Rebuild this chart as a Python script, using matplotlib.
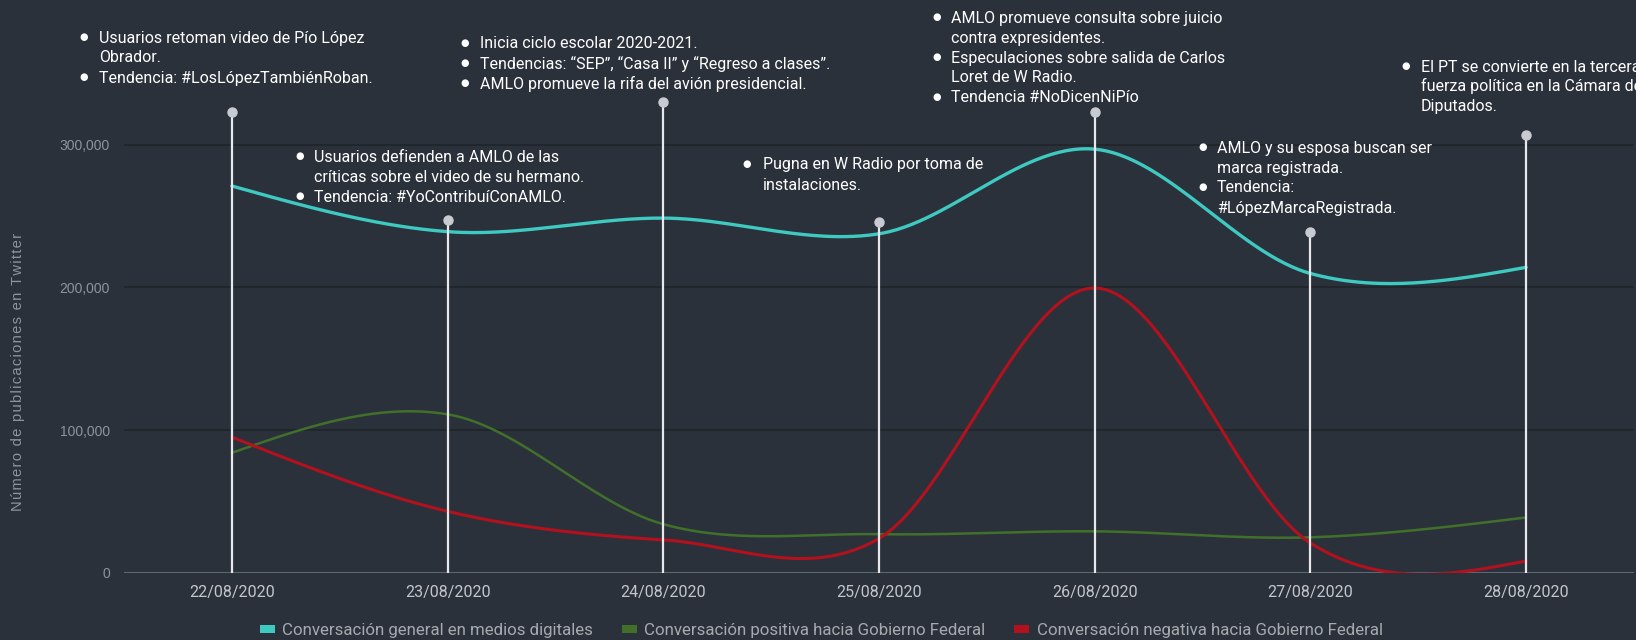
import numpy as np
import matplotlib
matplotlib.use("Agg")
import matplotlib.pyplot as plt
from matplotlib.patches import Patch

plt.rcParams['font.family'] = ['Roboto', 'DejaVu Sans']

# datos
fechas = ["22/08/2020", "23/08/2020", "24/08/2020", "25/08/2020",
          "26/08/2020", "27/08/2020", "28/08/2020"]
general = [271000, 239000, 248500, 237500, 296800, 209700, 214000]
positiva = [84000, 111000, 34000, 27000, 29000, 24800, 38700]
negativa = [95000, 43000, 23000, 24000, 199500, 20800, 8200]
altura_eventos = [323000, 247000, 330000, 246000, 323000, 239000, 306500]

series = [
    ("Conversación general en medios digitales", general, "#3ec9c1", 2.4),
    ("Conversación positiva hacia Gobierno Federal", positiva, "#41702b", 1.8),
    ("Conversación negativa hacia Gobierno Federal", negativa, "#b3111d", 2.2),
]

# (x viñeta, x texto, y primera línea) en px, y líneas (texto, viñeta?)
eventos = [
    (84, 99, 37, [("Usuarios retoman video de Pío López", True), ("Obrador.", False),
                  ("Tendencia: #LosLópezTambiénRoban.", True)]),
    (300, 314, 156, [("Usuarios defienden a AMLO de las", True),
                     ("críticas sobre el video de su hermano.", False),
                     ("Tendencia: #YoContribuíConAMLO.", True)]),
    (465, 480, 43, [("Inicia ciclo escolar 2020-2021.", True),
                    ("Tendencias: “SEP”, “Casa II” y “Regreso a clases”.", True),
                    ("AMLO promueve la rifa del avión presidencial.", True)]),
    (747, 763, 164, [("Pugna en W Radio por toma de", True), ("instalaciones.", False)]),
    (937, 951, 17, [("AMLO promueve consulta sobre juicio", True), ("contra expresidentes.", False),
                    ("Especulaciones sobre salida de Carlos", True), ("Loret de W Radio.", False),
                    ("Tendencia #NoDicenNiPío", True)]),
    (1203, 1217, 147, [("AMLO y su esposa buscan ser", True), ("marca registrada.", False),
                       ("Tendencia:", True), ("#LópezMarcaRegistrada.", False)]),
    (1406, 1421, 66, [("El PT se convierte en la tercera", True),
                      ("fuerza política en la Cámara de", False), ("Diputados.", False)]),
]


def spline(y, n=60):
    # Catmull-Rom con extremos naturales
    y = np.asarray(y, float)
    k = len(y)
    m = np.zeros(k)
    m[1:-1] = (y[2:] - y[:-2]) / 2
    m[0] = (3 * (y[1] - y[0]) - m[1]) / 2
    m[-1] = (3 * (y[-1] - y[-2]) - m[-2]) / 2
    xs, ys = [], []
    t = np.linspace(0, 1, n)
    h00 = 2 * t**3 - 3 * t**2 + 1
    h10 = t**3 - 2 * t**2 + t
    h01 = -2 * t**3 + 3 * t**2
    h11 = t**3 - t**2
    for i in range(k - 1):
        xs.append(i + t)
        ys.append(h00 * y[i] + h10 * m[i] + h01 * y[i + 1] + h11 * m[i + 1])
    return np.concatenate(xs), np.concatenate(ys)


W, H = 1636, 640
bg = "#2b313b"
fig = plt.figure(figsize=(W / 100, H / 100), dpi=100, facecolor=bg)
ax = fig.add_axes([124 / W, (H - 572.7) / H, (1634 - 124) / W, 572.7 / H])
ax.set_facecolor(bg)
ax.set_xlim(-0.5, 6.5)
ax.set_ylim(0, 572.7 / 142.7 * 100000)

for s in ax.spines.values():
    s.set_visible(False)
for v in [100000, 200000, 300000]:
    ax.axhline(v, color="#1f232a", lw=1.2, zorder=1)
ax.axhline(0, color="#5d6875", lw=2.2, zorder=2)

for nombre, vals, color, lw in series:
    xs, ys = spline(vals)
    ax.plot(xs, ys, color=color, lw=lw, zorder=3, solid_capstyle="round")

x = np.arange(len(fechas))
ax.vlines(x, 0, altura_eventos, color="#e8e8ec", lw=1.6, zorder=4)
ax.plot(x, altura_eventos, "o", color="#c9cbd2", ms=6.5, zorder=5, clip_on=False)

ax.set_xticks(x)
ax.set_xticklabels(fechas, color="#c3c6ca", fontsize=11.5)
ax.set_yticks([0, 100000, 200000, 300000])
ax.set_yticklabels(["0", "100,000", "200,000", "300,000"], color="#8f949b",
                   fontsize=10, family="Liberation Sans")
ax.tick_params(axis="both", length=0)
ax.tick_params(axis="x", pad=9)
ax.tick_params(axis="y", pad=10)

# etiqueta del eje con espaciado entre letras
etiqueta = "\u200a".join("Número de publicaciones en Twitter")
fig.text(18 / W, 1 - 372 / H, etiqueta, rotation=90, ha="center", va="center",
         color="#8f949b", fontsize=10.6, family=["Liberation Sans", "DejaVu Sans"])

for bx, tx, y0, lineas in eventos:
    for j, (txt, vin) in enumerate(lineas):
        yb = y0 + j * 20 + 5.5
        if vin:
            fig.text(bx / W, 1 - (y0 + j * 20) / H, "●", color="white", fontsize=7,
                     ha="center", va="center", family="DejaVu Sans")
        fig.text(tx / W, 1 - yb / H, txt, color="white", fontsize=11.5, ha="left",
                 va="baseline")

handles = [Patch(facecolor=c, edgecolor="none", label=n) for n, _, c, _ in series]
leg = fig.legend(handles=handles, loc="center", bbox_to_anchor=(0.502, 9 / H), ncol=3,
                 frameon=False, fontsize=12.2, handlelength=0.88, handleheight=0.35,
                 handletextpad=0.45, columnspacing=1.7)
for t in leg.get_texts():
    t.set_color("#a6aaaf")

fig.savefig("out.png", dpi=100, facecolor=bg)
